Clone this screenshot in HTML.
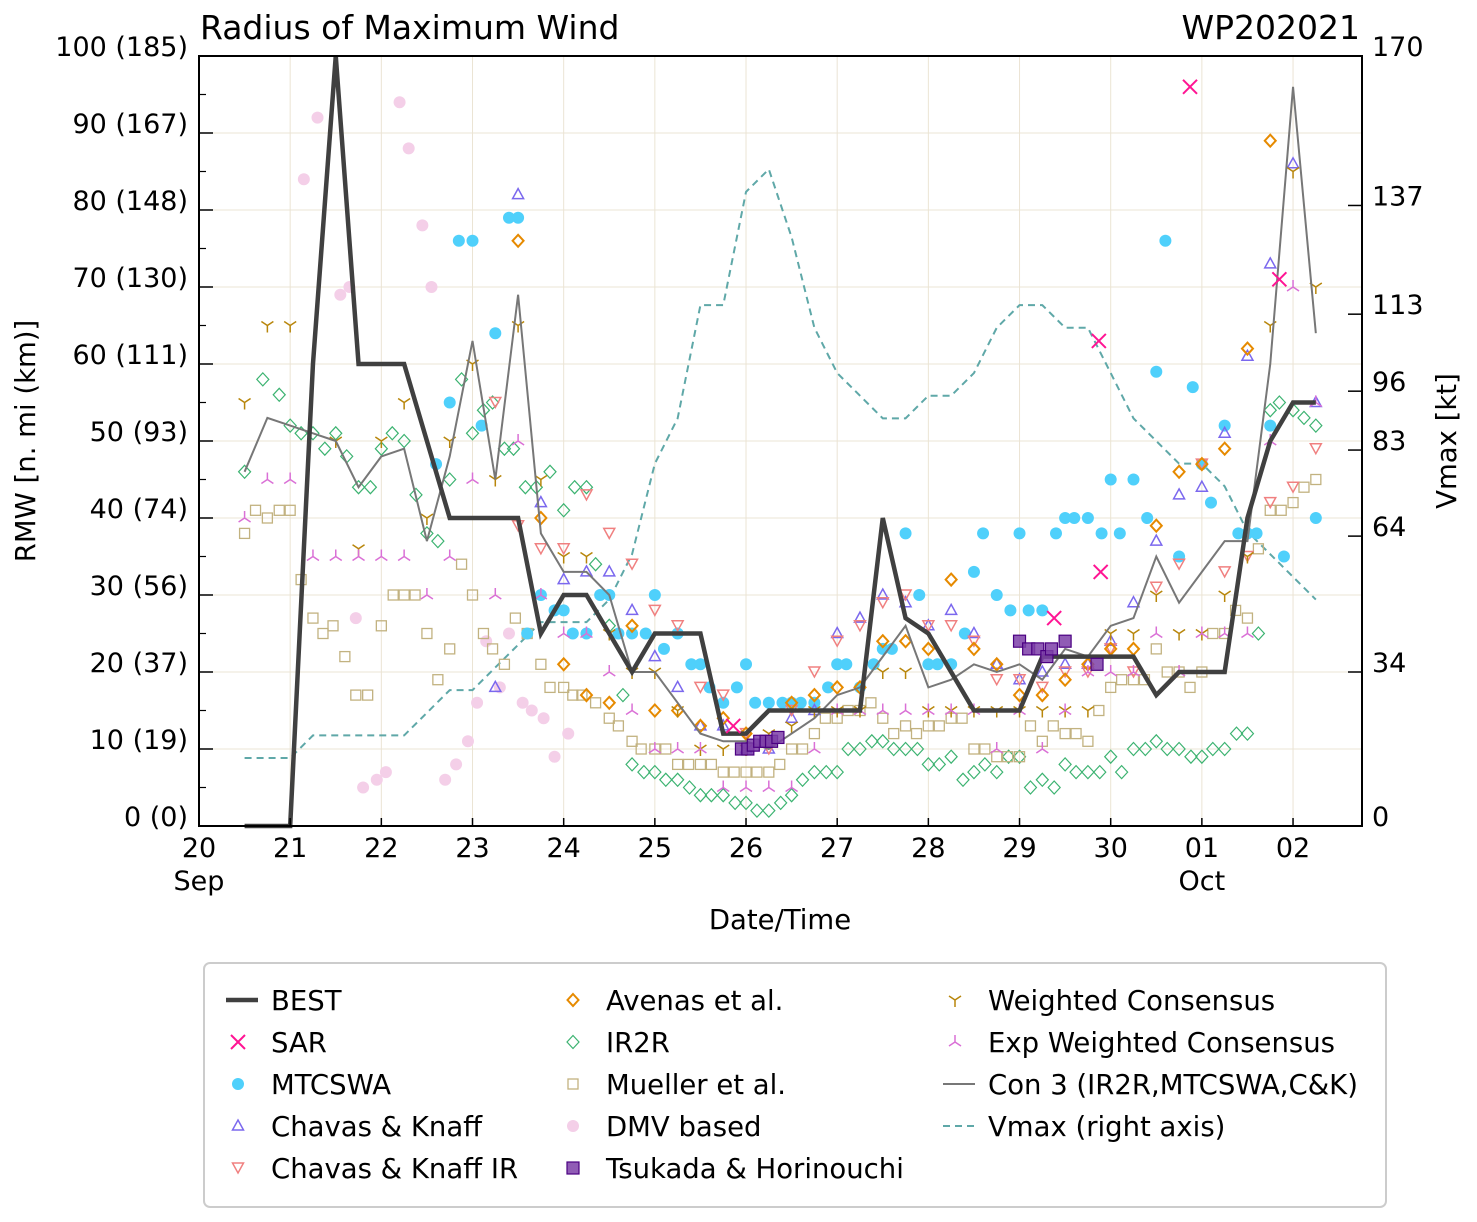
<!DOCTYPE html>
<html><head><meta charset="utf-8">
<style>
body{margin:0;background:#fff;}
svg{display:block;font-family:"DejaVu Sans","Liberation Sans",sans-serif;}
</style></head>
<body>
<svg id="chart" width="1477" height="1222" viewBox="0 0 1477 1222" xmlns="http://www.w3.org/2000/svg">
<rect width="1477" height="1222" fill="#fff"/>
<g id="grid"></g>
<g id="series"></g>
<g id="axes"></g>
<text x="200" y="39" font-size="33">Radius of Maximum Wind</text>
<text x="1360" y="39" font-size="33" text-anchor="end">WP202021</text>
<text x="780" y="929" font-size="27.5" text-anchor="middle">Date/Time</text>
<text transform="translate(35,441) rotate(-90)" font-size="27.5" text-anchor="middle">RMW [n. mi (km)]</text>
<text transform="translate(1456,441) rotate(-90)" font-size="27.5" text-anchor="middle">Vmax [kt]</text>
<g id="legend">
<rect x="204" y="963" width="1182" height="244" rx="6" fill="#fff" stroke="#ccc" stroke-width="2"/>
</g>
</svg>
<script>
// data: times are continuous day-of-month (Sep 20 = 20, Oct 1 = 31)
const bestT=[20.5,20.75,21,21.25,21.5,21.75,22,22.25,22.5,22.75,23,23.25,23.5,23.75,24,24.25,24.5,24.75,25,25.25,25.5,25.75,26,26.25,26.5,26.75,27,27.25,27.5,27.75,28,28.25,28.5,28.75,29,29.25,29.5,29.75,30,30.25,30.5,30.75,31,31.25,31.5,31.75,32,32.25];
const bestV=[0,0,0,60,100,60,60,60,50,40,40,40,40,25,30,30,25,20,25,25,25,12,12,15,15,15,15,15,40,27,25,20,15,15,15,22,22,22,22,22,17,20,20,20,40,50,55,55];
const vmaxKt=[15,15,15,20,20,20,20,20,25,30,30,35,40,45,45,45,50,60,80,90,115,115,140,145,130,110,100,95,90,90,95,95,100,110,115,115,110,110,100,90,85,80,80,75,65,60,55,50];
const con3V=[46,53,52,51,50,44,48,49,37,48,63,45,69,38,33,33,30,20,20,16,12,11,11,10,12,14,17,18,22,26,18,19,21,20,21,19,23,22,26,27,35,29,33,37,37,60,96,64];
const sar=[[25.86,13],[29.38,27],[29.87,63],[29.89,33],[30.87,96],[31.85,71]];
const mtcswa=[[22.6,47],[22.75,55],[22.85,76],[23,76],[23.1,52],[23.25,64],[23.4,79],[23.5,79],[23.6,25],[23.75,30],[23.9,28],[24,28],[24.1,25],[24.25,25],[24.4,30],[24.5,30],[24.6,25],[24.75,25],[24.9,25],[25,30],[25.1,23],[25.25,25],[25.4,21],[25.5,21],[25.6,18],[25.75,16],[25.9,18],[26,21],[26.1,16],[26.25,16],[26.4,16],[26.5,16],[26.6,16],[26.75,16],[26.9,18],[27,21],[27.1,21],[27.25,18],[27.4,21],[27.5,23],[27.6,23],[27.75,38],[27.9,30],[28,21],[28.1,21],[28.25,21],[28.4,25],[28.5,33],[28.6,38],[28.75,30],[28.9,28],[29,38],[29.1,28],[29.25,28],[29.4,38],[29.5,40],[29.6,40],[29.75,40],[29.9,38],[30,45],[30.1,38],[30.25,45],[30.4,40],[30.5,59],[30.6,76],[30.75,35],[30.9,57],[31,47],[31.1,42],[31.25,52],[31.4,38],[31.5,38],[31.6,38],[31.75,52],[31.9,35],[32.25,40]];
const ck=[[23.25,18],[23.5,82],[23.75,42],[24,32],[24.25,33],[24.5,33],[24.75,28],[25,22],[25.25,18],[25.5,13],[25.75,13],[26,10],[26.25,10],[26.5,14],[26.75,15],[27,25],[27.25,27],[27.5,30],[27.75,29],[28,26],[28.25,28],[28.5,25],[28.75,21],[29,19],[29.25,20],[29.5,21],[29.75,21],[30,24],[30.25,29],[30.5,37],[30.75,43],[31,44],[31.25,51],[31.5,61],[31.75,73],[32,86],[32.25,55]];
const ckir=[[23.25,55],[23.5,39],[23.75,36],[24,36],[24.25,43],[24.5,38],[24.75,34],[25,28],[25.25,26],[25.5,18],[25.75,17],[26,12],[26.25,10],[26.5,15],[26.75,20],[27,24],[27.25,26],[27.5,29],[27.75,30],[28,26],[28.25,26],[28.5,24],[28.75,19],[29,19],[29.25,18],[29.5,20],[29.75,20],[30,23],[30.25,20],[30.5,31],[30.75,34],[31,47],[31.25,33],[31.5,35],[31.75,42],[32,44],[32.25,49]];
const avenas=[[23.5,76],[23.75,40],[24,21],[24.25,17],[24.5,16],[24.75,26],[25,15],[25.25,15],[25.5,13],[25.75,14],[26,12],[26.25,11],[26.5,16],[26.75,17],[27,18],[27.25,18],[27.5,24],[27.75,24],[28,23],[28.25,32],[28.5,23],[28.75,21],[29,17],[29.25,17],[29.5,19],[29.75,21],[30,23],[30.25,23],[30.5,39],[30.75,46],[31,47],[31.25,49],[31.5,62],[31.75,89]];
const ir2r=[[20.5,46],[20.7,58],[20.88,56],[21,52],[21.12,51],[21.25,51],[21.38,49],[21.5,51],[21.62,48],[21.75,44],[21.88,44],[22,49],[22.12,51],[22.25,50],[22.38,43],[22.5,38],[22.62,37],[22.75,45],[22.88,58],[23,51],[23.12,54],[23.22,55],[23.35,49],[23.45,49],[23.58,44],[23.7,44],[23.85,46],[24,41],[24.12,44],[24.25,44],[24.35,34],[24.5,26],[24.65,17],[24.75,8],[24.88,7],[25,7],[25.12,6],[25.25,6],[25.38,5],[25.5,4],[25.62,4],[25.75,4],[25.88,3],[26,3],[26.12,2],[26.25,2],[26.38,3],[26.5,4],[26.62,6],[26.75,7],[26.88,7],[27,7],[27.12,10],[27.25,10],[27.38,11],[27.5,11],[27.62,10],[27.75,10],[27.88,10],[28,8],[28.12,8],[28.25,9],[28.38,6],[28.5,7],[28.62,8],[28.75,7],[28.88,9],[29,9],[29.12,5],[29.25,6],[29.38,5],[29.5,8],[29.62,7],[29.75,7],[29.88,7],[30,9],[30.12,7],[30.25,10],[30.38,10],[30.5,11],[30.62,10],[30.75,10],[30.88,9],[31,9],[31.12,10],[31.25,10],[31.38,12],[31.5,12],[31.62,25],[31.75,54],[31.85,55],[32,54],[32.12,53],[32.25,52]];
const mueller=[[20.5,38],[20.62,41],[20.75,40],[20.88,41],[21,41],[21.12,32],[21.25,27],[21.36,25],[21.47,26],[21.6,22],[21.72,17],[21.85,17],[22,26],[22.13,30],[22.25,30],[22.37,30],[22.5,25],[22.62,19],[22.75,23],[22.88,34],[23,30],[23.12,25],[23.22,23],[23.35,21],[23.47,27],[23.6,25],[23.75,21],[23.85,18],[24,18],[24.1,17],[24.2,17],[24.35,16],[24.5,14],[24.6,13],[24.75,11],[24.85,10],[25,10],[25.12,10],[25.25,8],[25.37,8],[25.5,8],[25.62,8],[25.75,7],[25.87,7],[26,7],[26.12,7],[26.25,7],[26.37,8],[26.5,10],[26.62,10],[26.75,12],[26.87,14],[27,14],[27.12,15],[27.25,15],[27.37,16],[27.5,14],[27.62,12],[27.75,13],[27.87,12],[28,13],[28.12,13],[28.25,14],[28.37,14],[28.5,10],[28.62,10],[28.75,9],[28.87,9],[29,9],[29.12,13],[29.25,11],[29.37,13],[29.5,12],[29.62,12],[29.75,11],[29.87,15],[30,18],[30.12,19],[30.25,19],[30.37,19],[30.5,23],[30.62,20],[30.75,20],[30.87,18],[31,20],[31.12,25],[31.25,25],[31.37,28],[31.5,27],[31.62,36],[31.75,41],[31.87,41],[32,42],[32.12,44],[32.25,45]];
const dmv=[[21.15,84],[21.3,92],[21.55,69],[21.65,70],[21.72,27],[21.8,5],[21.95,6],[22.05,7],[22.2,94],[22.3,88],[22.45,78],[22.55,70],[22.7,6],[22.82,8],[22.95,11],[23.05,16],[23.15,24],[23.3,18],[23.4,25],[23.55,16],[23.65,15],[23.78,14],[23.9,9],[24.05,12]];
const tsukada=[[25.95,10],[26.02,10],[26.08,10.5],[26.15,11],[26.22,11],[26.28,11],[26.35,11.5],[29.0,24],[29.1,23],[29.2,23],[29.3,22],[29.35,23],[29.5,24],[29.85,21]];
const wcons=[[20.5,55],[20.75,65],[21,65],[21.5,50],[21.75,36],[22,50],[22.25,55],[22.5,40],[22.75,50],[23,60],[23.25,45],[23.5,65],[23.75,45],[24,35],[24.25,35],[24.5,25],[24.75,20],[25,20],[25.25,15],[25.5,10],[25.75,10],[26,10],[26.25,12],[26.5,13],[26.75,15],[27,15],[27.25,15],[27.5,20],[27.75,20],[28,15],[28.25,15],[28.5,15],[28.75,15],[29,15],[29.25,15],[29.5,15],[29.75,15],[30,25],[30.25,25],[30.5,30],[30.75,25],[31,25],[31.25,30],[31.5,35],[31.75,65],[32,85],[32.25,70]];
const ewcons=[[20.5,40],[20.75,45],[21,45],[21.25,35],[21.5,35],[21.75,35],[22,35],[22.25,35],[22.5,30],[22.75,35],[23,45],[23.25,30],[23.5,50],[23.75,30],[24,25],[24.25,25],[24.5,20],[24.75,15],[25,10],[25.25,10],[25.5,10],[25.75,5],[26,5],[26.25,5],[26.5,5],[26.75,10],[27,15],[27.25,15],[27.5,15],[27.75,15],[28,15],[28.25,15],[28.5,15],[28.75,10],[29,15],[29.25,10],[29.5,15],[29.75,20],[30,20],[30.25,20],[30.5,25],[30.75,20],[31,25],[31.25,25],[31.5,25],[31.75,50],[32,70],[32.25,55]];
const xTickLabels=["20","21","22","23","24","25","26","27","28","29","30","01","02"];
const yTickLabels=["0 (0)","10 (19)","20 (37)","30 (56)","40 (74)","50 (93)","60 (111)","70 (130)","80 (148)","90 (167)","100 (185)"];
const rTicks=[0,34,64,83,96,113,137,170];

const NS="http://www.w3.org/2000/svg";
const L=199,R=1362,T=56,B=826;
const X=t=>L+(t-20)*91.17;
const Y=v=>B-v*(B-T)/100;
const YR=k=>B-k*(B-T)/170;
function el(tag,attrs,parent){const e=document.createElementNS(NS,tag);for(const k in attrs)e.setAttribute(k,attrs[k]);parent.appendChild(e);return e;}
const grid=document.getElementById('grid'),ser=document.getElementById('series'),ax=document.getElementById('axes'),leg=document.getElementById('legend');

for(let i=0;i<xTickLabels.length;i++){const x=X(20+i);
 const g=el('line',{x1:x,x2:x,y1:T,y2:B,stroke:'#ebe4d4','stroke-width':1},grid);
 
 el('line',{x1:x,x2:x,y1:B,y2:B-8,stroke:'#000','stroke-width':1.5},ax);
 const tx=el('text',{x:x,y:857,'font-size':27,'text-anchor':'middle'},ax);tx.textContent=xTickLabels[i];
 }
const ms=el('text',{x:X(20),y:890,'font-size':27,'text-anchor':'middle'},ax);ms.textContent='Sep';

const mo=el('text',{x:X(31),y:890,'font-size':27,'text-anchor':'middle'},ax);mo.textContent='Oct';

for(let i=0;i<yTickLabels.length;i++){const y=Y(i*10);
 const g=el('line',{x1:L,x2:R,y1:y,y2:y,stroke:'#ebe4d4','stroke-width':1},grid);
 
 el('line',{x1:L,x2:L+14,y1:y,y2:y,stroke:'#000','stroke-width':1.5},ax);
 const tx=el('text',{x:188,y:y-0,'font-size':27,'text-anchor':'end'},ax);tx.textContent=yTickLabels[i];
 }
for(let i=0;i<10;i++){const y=Y(i*10+5);el('line',{x1:L,x2:L+7,y1:y,y2:y,stroke:'#000','stroke-width':1.2},ax);}
rTicks.forEach(k=>{const y=YR(k);
 el('line',{x1:R-14,x2:R,y1:y,y2:y,stroke:'#000','stroke-width':1.5},ax);
 const tx=el('text',{x:1372,y:y,'font-size':27},ax);tx.textContent=k;
 });
const fr=el('rect',{x:L,y:T,width:R-L,height:B-T,fill:'none',stroke:'#000','stroke-width':2},ax);


function marker(type,x,y,parent){
 let e;
 if(type==='x'){e=el('path',{d:`M${x-7},${y-7}L${x+7},${y+7}M${x-7},${y+7}L${x+7},${y-7}`,stroke:'#ff1493','stroke-width':2,fill:'none'},parent);}
 else if(type==='circle'){e=el('circle',{cx:x,cy:y,r:6,fill:'#4fd0fb'},parent);}
 else if(type==='dmv'){e=el('circle',{cx:x,cy:y,r:6,fill:'#f4cfe8'},parent);}
 else if(type==='tri'){e=el('path',{d:`M${x},${y-6}L${x+5.5},${y+4}L${x-5.5},${y+4}Z`,stroke:'#7b68ee','stroke-width':1.5,fill:'none'},parent);}
 else if(type==='trid'){e=el('path',{d:`M${x},${y+5}L${x+5.5},${y-5}L${x-5.5},${y-5}Z`,stroke:'#f08080','stroke-width':1.5,fill:'none'},parent);}
 else if(type==='diaO'){e=el('path',{d:`M${x},${y-6}L${x+5.5},${y}L${x},${y+6}L${x-5.5},${y}Z`,stroke:'#e68a00','stroke-width':2,fill:'none'},parent);}
 else if(type==='diaG'){e=el('path',{d:`M${x},${y-6.5}L${x+6},${y}L${x},${y+6.5}L${x-6},${y}Z`,stroke:'#3cb371','stroke-width':1.2,fill:'none'},parent);}
 else if(type==='sq'){e=el('rect',{x:x-5,y:y-5,width:10,height:10,stroke:'#c2b280','stroke-width':1.3,fill:'none'},parent);}
 else if(type==='tsu'){e=el('rect',{x:x-6,y:y-6,width:12,height:12,stroke:'#4b0082','stroke-width':1.2,fill:'#7d3fa8','fill-opacity':0.85},parent);}
 else if(type==='wy'){e=el('path',{d:`M${x},${y}L${x},${y+7}M${x},${y}L${x-6},${y-4}M${x},${y}L${x+6},${y-4}`,stroke:'#b8860b','stroke-width':1.5,fill:'none'},parent);}
 else if(type==='ey'){e=el('path',{d:`M${x},${y}L${x},${y-7}M${x},${y}L${x-6},${y+4}M${x},${y}L${x+6},${y+4}`,stroke:'#da70d6','stroke-width':1.5,fill:'none'},parent);}
 return e;}

function scatter(arr,type,name){const g=el('g',{},ser);
 
 arr.forEach(p=>{const m=marker(type,X(p[0]),Y(p[1]),g);
  
  });}

const vp=el('polyline',{points:bestT.map((t,i)=>X(t)+','+YR(vmaxKt[i])).join(' '),fill:'none',stroke:'#5fa8a8','stroke-width':2,'stroke-dasharray':'7,5'},ser);

scatter(dmv,'dmv','dmv-series');
scatter(ir2r,'diaG','ir2r-series');
scatter(mueller,'sq','mueller-series');
scatter(mtcswa,'circle','mtcswa-series');
scatter(ck,'tri','chavas-knaff-series');
scatter(ckir,'trid','chavas-knaff-ir-series');
scatter(avenas,'diaO','avenas-series');
scatter(wcons,'wy','weighted-consensus-series');
scatter(ewcons,'ey','exp-weighted-consensus-series');
const cp=el('polyline',{points:bestT.map((t,i)=>X(t)+','+Y(con3V[i])).join(' '),fill:'none',stroke:'#777','stroke-width':2},ser);

const bp=el('polyline',{points:bestT.map((t,i)=>X(t)+','+Y(bestV[i])).join(' '),fill:'none',stroke:'#404040','stroke-width':4.5,'stroke-linejoin':'miter'},ser);

scatter(sar,'x','sar-series');
scatter(tsukada,'tsu','tsukada-series');

const legItems=[
 [238,1000,'line-best','BEST'],[238,1042,'x','SAR'],[238,1084,'circle','MTCSWA'],[238,1126,'tri','Chavas & Knaff'],[238,1168,'trid','Chavas & Knaff IR'],
 [573,1000,'diaO','Avenas et al.'],[573,1042,'diaG','IR2R'],[573,1084,'sq','Mueller et al.'],[573,1126,'dmv','DMV based'],[573,1168,'tsu','Tsukada & Horinouchi'],
 [955,1000,'wy','Weighted Consensus'],[955,1042,'ey','Exp Weighted Consensus'],[955,1084,'line-con','Con 3 (IR2R,MTCSWA,C&K)'],[955,1126,'line-vmax','Vmax (right axis)']];
legItems.forEach(it=>{const [x,y,type,label]=it;const g=el('g',{},leg);
 
 if(type==='line-best')el('line',{x1:x-12,x2:x+20,y1:y,y2:y,stroke:'#404040','stroke-width':4.5},g);
 else if(type==='line-con')el('line',{x1:x-12,x2:x+20,y1:y,y2:y,stroke:'#777','stroke-width':2},g);
 else if(type==='line-vmax')el('line',{x1:x-12,x2:x+20,y1:y,y2:y,stroke:'#5fa8a8','stroke-width':2,'stroke-dasharray':'7,5'},g);
 else marker(type,x,y,g);
 const tx=el('text',{x:x+33,y:y+10,'font-size':27.5},g);tx.textContent=label;});
</script>
</body></html>
